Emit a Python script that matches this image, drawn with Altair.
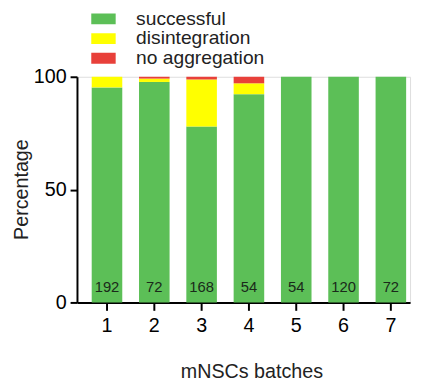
import altair as alt
import pandas as pd

batches = ["1", "2", "3", "4", "5", "6", "7"]
successful = [95.3, 97.7, 78.0, 92.3, 100, 100, 100]
disintegration = [4.7, 1.5, 20.8, 4.8, 0, 0, 0]
no_aggregation = [0, 0.8, 1.2, 2.9, 0, 0, 0]
counts = [192, 72, 168, 54, 54, 120, 72]
outcomes = ["successful", "disintegration", "no aggregation"]
colors = ["#5cbf57", "#ffff00", "#e8403a"]

rows = []
for i, b in enumerate(batches):
    for k, (name, series) in enumerate(zip(outcomes, [successful, disintegration, no_aggregation])):
        rows.append({"batch": b, "outcome": name, "value": series[i], "idx": k})
df = pd.DataFrame(rows)
cdf = pd.DataFrame({"batch": batches, "n": counts})

FONT = "Liberation Sans"

xscale = alt.Scale(paddingInner=0.354, paddingOuter=0.197, align=0.79)

bars = alt.Chart(df).mark_bar(strokeWidth=0).encode(
    x=alt.X("batch:N", sort=batches, scale=xscale,
            axis=alt.Axis(title="mNSCs batches", labelAngle=0, labelFontSize=20,
                          labelPadding=6, tickSize=8, tickWidth=2, domainWidth=2,
                          domainColor="black", tickColor="black", labelColor="black",
                          titleFontSize=20, titleFontWeight="normal", titleColor="#222",
                          titleX=177, titleY=60, titleBaseline="top")),
    y=alt.Y("value:Q", stack="zero", scale=alt.Scale(domain=[0, 100]),
            axis=alt.Axis(title="Percentage", values=[0, 50, 100], labelFontSize=20,
                          labelPadding=4, tickSize=7, tickWidth=2, domainWidth=2,
                          domainColor="black", tickColor="black", labelColor="black",
                          grid=False, titleFontSize=20, titleFontWeight="normal",
                          titleColor="#222", titleX=-56, titleY=114,
                          titleBaseline="middle")),
    color=alt.Color("outcome:N", sort=outcomes,
                    scale=alt.Scale(domain=outcomes, range=colors),
                    legend=alt.Legend(title=None, orient="none", legendX=14.5, legendY=-67,
                                      symbolType="M-2.73,-1H2.73V1H-2.73Z", symbolSize=121,
                                      symbolStrokeWidth=0, labelFontSize=19.5,
                                      labelOffset=26, rowPadding=0, clipHeight=16.5,
                                      labelColor="#222")),
    order=alt.Order("idx:Q"),
)

text = alt.Chart(cdf).mark_text(fontSize=15, color="#1a2a1a", baseline="middle").encode(
    x=alt.X("batch:N", sort=batches, scale=xscale),
    y=alt.datum(7),
    text="n:Q",
)

chart = (bars + text).properties(
    width=338, height=229,
    autosize=alt.AutoSizeParams(type="none"),
    padding={"left": 70, "top": 67, "right": 4, "bottom": 81},
).configure_view(stroke=None).configure(font=FONT)

chart.save("out.html", embed_options={"renderer": "svg", "actions": False})
